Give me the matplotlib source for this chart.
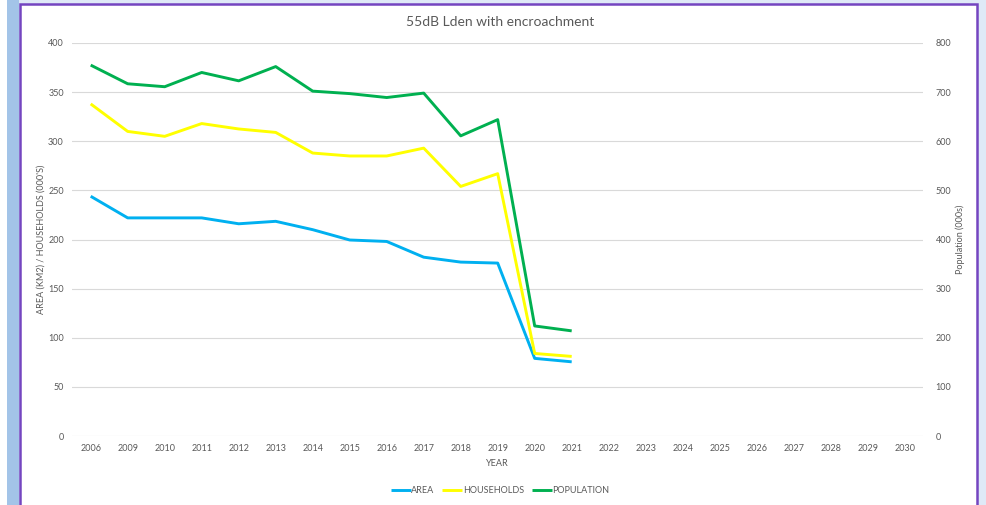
import matplotlib
matplotlib.use("Agg")
import matplotlib.pyplot as plt
from matplotlib.patches import Rectangle

years = ["2006", "2009", "2010", "2011", "2012", "2013", "2014", "2015", "2016",
         "2017", "2018", "2019", "2020", "2021", "2022", "2023", "2024", "2025",
         "2026", "2027", "2028", "2029", "2030"]
area = [244, 222, 222, 222, 216, 218.5, 210, 199.5, 198, 182, 177, 176, 79, 75.5]
households = [338, 310, 305, 318, 312.5, 309, 288, 285, 285, 293, 254, 267, 84, 81]
population = [755, 717, 711, 740, 723, 752, 702, 697, 689, 698, 611, 644, 224, 214]

title = "55dB Lden with encroachment"
left_label = "AREA (KM2) / HOUSEHOLDS (000'S)"
right_label = "Population (000s)"
x_label = "YEAR"

plt.rcParams['font.family'] = ['Lato', 'DejaVu Sans']
W, H = 987, 505
fig = plt.figure(figsize=(W / 100, H / 100), dpi=100)
fig.patch.set_facecolor('#DFE9F7')

def px_rect(x0, y0, x1, y1, **kw):
    r = Rectangle((x0 / W, 1 - y1 / H), (x1 - x0) / W, (y1 - y0) / H,
                  transform=fig.transFigure, **kw)
    fig.add_artist(r)
    return r

px_rect(0, 0, 7, H, facecolor='white', edgecolor='none', zorder=0)
px_rect(7, 0, 19, H, facecolor='#A3C4E8', edgecolor='none', zorder=0)
px_rect(20, 4, 977, H + 5, facecolor='white', edgecolor='#7445C0', linewidth=1.8, zorder=0)

grey = '#595959'
ax = fig.add_axes([72.2 / W, 69 / H, 851 / W, 393 / H])
ax.set_facecolor('none')
ax2 = ax.twinx()

x = list(range(len(years)))
l1, = ax.plot(x[:len(area)], area, color='#00B0F0', lw=2.1, solid_joinstyle='round', solid_capstyle='butt')
l2, = ax.plot(x[:len(households)], households, color='#FFFF00', lw=2.1, solid_joinstyle='round', solid_capstyle='butt')
l3, = ax2.plot(x[:len(population)], population, color='#00B050', lw=2.1, solid_joinstyle='round', solid_capstyle='butt')

ax.set_xlim(-0.5, len(years) - 0.5)
ax.set_ylim(0, 400)
ax2.set_ylim(0, 800)
ax.set_yticks(range(0, 401, 50))
ax2.set_yticks(range(0, 801, 100))
ax.set_xticks(x)
ax.set_xticklabels(years)
ax.grid(axis='y', color='#D9D9D9', lw=0.8)
ax.set_axisbelow(True)
for a in (ax, ax2):
    for s in a.spines.values():
        s.set_visible(False)
    a.tick_params(length=0, colors=grey, labelsize=6.5)
ax.tick_params(axis='y', pad=6)
ax2.tick_params(axis='y', pad=9)
ax.tick_params(axis='x', pad=6)

ax.set_ylabel(left_label, color=grey, fontsize=6.5, labelpad=2)
ax2.set_ylabel(right_label, color=grey, fontsize=6.5, labelpad=3)
ax.set_xlabel(x_label, color=grey, fontsize=6.5, labelpad=4)

fig.text(500 / W, 1 - 22 / H, title, ha='center', va='center', color=grey, fontsize=10)

leg = fig.legend([l1, l2, l3], ["AREA", "HOUSEHOLDS", "POPULATION"],
                 loc='center', bbox_to_anchor=(500 / W, 1 - 490.5 / H), ncol=3,
                 frameon=False, fontsize=6.5, handlelength=2.2, handletextpad=0.05,
                 columnspacing=0.9, labelcolor=grey)

fig.savefig("out.png", dpi=100)
